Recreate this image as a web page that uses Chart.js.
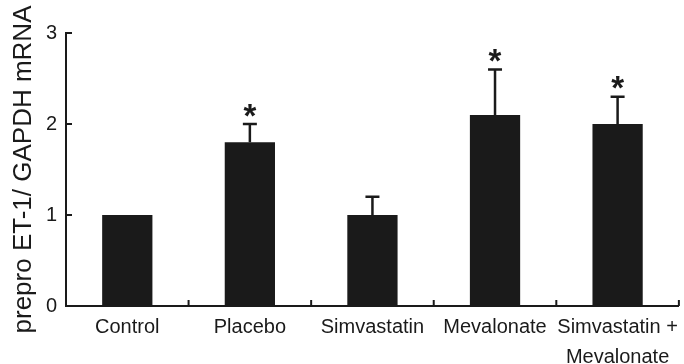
<!DOCTYPE html>
<html>
<head>
<meta charset="utf-8">
<script src="https://cdn.jsdelivr.net/npm/chart.js@4.4.1/dist/chart.umd.min.js"></script>
<style>
  html, body { margin: 0; padding: 0; background: #fff; }
  canvas { display: block; }
</style>
</head>
<body>
<canvas id="et1-chart" width="684" height="364"></canvas>
<script>
/* prepro ET-1 / GAPDH mRNA theo nhóm điều trị */

const categories = ['Control', 'Placebo', 'Simvastatin', 'Mevalonate', ['Simvastatin +', 'Mevalonate']];
const meanValues = [1.0, 1.8, 1.0, 2.1, 2.0];
const errorValues = [0, 0.2, 0.2, 0.5, 0.3];
const significant = [false, true, false, true, true];
const yTickValues = [0, 1, 2, 3];

const INK = '#1a1a1a';
const FONT = "'Liberation Sans', Arial, sans-serif";

// thanh sai số (chỉ phía trên) + dấu sao
const errorBarPlugin = {
    id: 'errorBars',
    afterDatasetsDraw(chart) {
        const ctx = chart.ctx;
        const meta = chart.getDatasetMeta(0);
        const yScale = chart.scales.y;
        ctx.save();
        ctx.strokeStyle = INK;
        ctx.fillStyle = INK;
        ctx.lineWidth = 2.5;
        meta.data.forEach((bar, i) => {
            const top = yScale.getPixelForValue(meanValues[i] + errorValues[i]);
            if (errorValues[i] > 0) {
                ctx.beginPath();
                ctx.moveTo(bar.x, bar.y);
                ctx.lineTo(bar.x, top);
                ctx.moveTo(bar.x - 7, top);
                ctx.lineTo(bar.x + 7, top);
                ctx.stroke();
            }
            if (significant[i]) {
                ctx.font = 'bold 33px ' + FONT;
                ctx.textAlign = 'center';
                ctx.textBaseline = 'alphabetic';
                const m = ctx.measureText('*');
                const centerY = top - 14;
                ctx.fillText('*', bar.x, centerY + (m.actualBoundingBoxAscent - m.actualBoundingBoxDescent) / 2);
            }
        });
        ctx.restore();
    }
};

// vạch chia hướng vào trong
const innerTicksPlugin = {
    id: 'innerTicks',
    afterDraw(chart) {
        const { ctx, chartArea, scales: { x, y } } = chart;
        ctx.save();
        ctx.strokeStyle = INK;
        ctx.lineWidth = 2;
        ctx.beginPath();
        y.ticks.forEach(t => {
            const py = y.getPixelForValue(t.value);
            ctx.moveTo(chartArea.left, py);
            ctx.lineTo(chartArea.left + 6, py);
        });
        for (let i = 1; i <= categories.length; i++) {
            const px = x.getPixelForValue(i - 0.5);
            ctx.moveTo(px, chartArea.bottom);
            ctx.lineTo(px, chartArea.bottom - 6);
        }
        ctx.stroke();
        ctx.restore();
    }
};

new Chart(document.getElementById('et1-chart').getContext('2d'), {
    type: 'bar',
    data: {
        labels: categories,
        datasets: [{
            data: meanValues,
            backgroundColor: INK,
            borderWidth: 0,
            barPercentage: 0.41,
            categoryPercentage: 1
        }]
    },
    options: {
        responsive: false,
        animation: false,
        layout: { padding: { left: 0, right: 1, top: 33, bottom: 0 } },
        plugins: { legend: { display: false }, tooltip: { enabled: false } },
        scales: {
            x: {
                grid: { display: false, drawTicks: false },
                border: { display: true, color: INK, width: 2 },
                ticks: {
                    color: INK,
                    font: { family: FONT, size: 20, lineHeight: 1.5 },
                    padding: 6,
                    maxRotation: 0,
                    autoSkip: false
                },
                afterFit: scale => { scale.height = 58; }
            },
            y: {
                min: 0,
                max: 3,
                afterBuildTicks: scale => { scale.ticks = yTickValues.map(v => ({ value: v })); },
                grid: { display: false, drawTicks: false },
                border: { display: true, color: INK, width: 2 },
                ticks: {
                    color: INK,
                    font: { family: FONT, size: 20 },
                    padding: 9
                },
                title: {
                    display: true,
                    text: 'prepro ET-1/ GAPDH mRNA',
                    color: INK,
                    font: { family: FONT, size: 26 },
                    padding: { top: 8, bottom: 0 }
                },
                afterFit: scale => { scale.width = 66; }
            }
        }
    },
    plugins: [errorBarPlugin, innerTicksPlugin]
});
</script>
</body>
</html>
